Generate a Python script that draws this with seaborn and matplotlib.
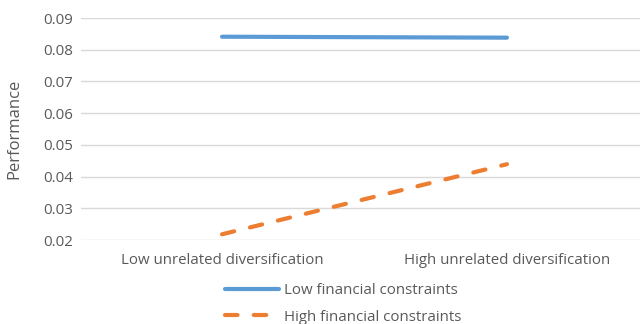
import matplotlib
matplotlib.use("Agg")
import matplotlib.pyplot as plt
import seaborn as sns
import pandas as pd
from matplotlib.lines import Line2D

categories = ["Low unrelated diversification", "High unrelated diversification"]
low_fc = [0.0841, 0.0838]
high_fc = [0.0218, 0.0439]
series_names = ["Low financial constraints", "High financial constraints"]
yticks = [0.02, 0.03, 0.04, 0.05, 0.06, 0.07, 0.08, 0.09]

sns.set_theme(style="white")
plt.rcParams['font.family'] = ['Open Sans', 'DejaVu Sans']

df = pd.DataFrame({
    "x": list(range(len(categories))) * 2,
    "y": low_fc + high_fc,
    "series": [series_names[0]] * 2 + [series_names[1]] * 2,
})

fig = plt.figure(figsize=(6.4, 3.24), dpi=100)
ax = fig.add_axes([81/640, 1 - 240/324, 1 - 81/640, 222/324])

dash = (3.0, 3.9)
sns.lineplot(data=df, x="x", y="y", hue="series", style="series",
             palette=["#5B9BD5", "#ED7D31"], dashes=[(None, None), dash],
             ax=ax, linewidth=3.0, legend=False)
for l in ax.get_lines():
    l.set_solid_capstyle('round')
    l.set_dash_capstyle('round')

ax.set_xlim(-0.495, 1.467)
ax.set_ylim(0.02, 0.09)
ax.set_yticks(yticks)
ax.set_yticklabels([f"{v:.2f}" for v in yticks])
ax.set_xticks(range(len(categories)))
ax.set_xticklabels(categories)
ax.yaxis.grid(True, color="#D9D9D9", linewidth=1.0)
for s in ax.spines.values():
    s.set_visible(False)
ax.tick_params(axis='both', length=0, labelsize=10.8, colors="#595959", pad=6)
ax.tick_params(axis='x', pad=9)
ax.set_xlabel("")
ax.set_ylabel("Performance", color="#595959", fontsize=12, labelpad=4)
ax.yaxis.set_label_coords(-(81 - 22) / 559, 0.5)

handles = [Line2D([], [], color="#5B9BD5", linewidth=3.0, solid_capstyle='round'),
           Line2D([], [], color="#ED7D31", linewidth=3.0, linestyle=(0, dash), dash_capstyle='round')]
leg = fig.legend(handles, series_names, loc="center", bbox_to_anchor=(343/640, 1 - 304/324),
                 ncol=1, frameon=False, fontsize=10.8, handlelength=3.6, labelspacing=0.75,
                 handletextpad=0.3, labelcolor="#595959")

fig.savefig("out.png", dpi=100)
